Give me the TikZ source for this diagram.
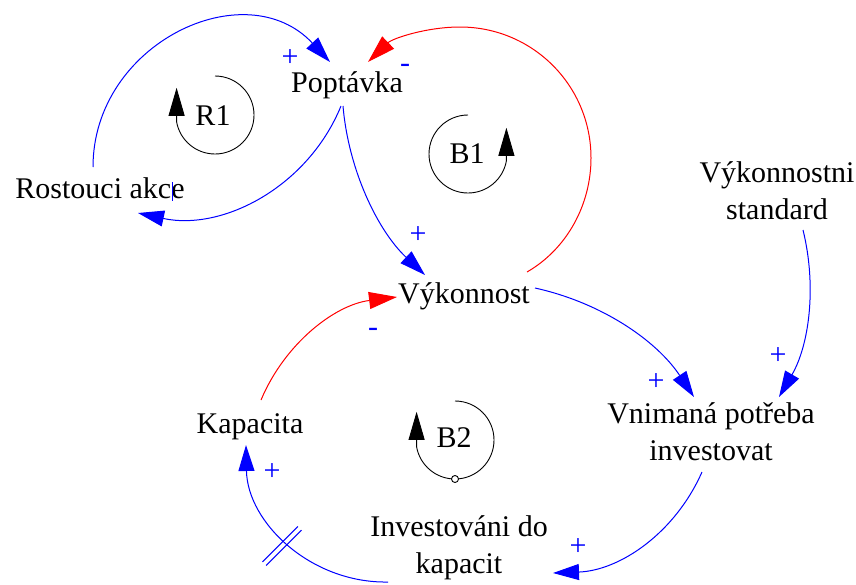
\documentclass[tikz,border=0pt]{standalone}
\usepackage{fontspec}
\setmainfont{Liberation Serif}
\usetikzlibrary{arrows.meta}
\newcommand\twolines[2]{\begin{tabular}[t]{@{}c@{}}#1\\#2\end{tabular}}
\begin{document}
\begin{tikzpicture}[x=1pt,y=-1pt,
  lbl/.style={font=\fontsize{30}{37}\selectfont, inner sep=0pt, anchor=base},
  link/.style={blue, line width=1pt, -{Triangle[length=26pt,width=16pt]}},
  neglink/.style={red, line width=1pt, -{Triangle[length=28pt,width=17pt]}},
  pol/.style={blue, font=\fontsize{30}{37}\selectfont, inner sep=0pt},
  loopline/.style={black, line width=0.9pt},
  looparrow/.style={black, line width=0.9pt, -{Triangle[length=28pt,width=16pt]}},
  delaymark/.style={blue, line width=1pt},
]
\useasboundingbox (0,0) rectangle (856,584);

% variables
\node[lbl] (pop)  at (347,92)  {Poptávka};
\node[lbl] (rost) at (100,198) {Rostouci akce};
\node[lbl] (vyk)  at (464,303) {Výkonnost};
\node[lbl] (std)  at (777,182) {\twolines{Výkonnostni}{standard}};
\node[lbl] (vnim) at (711,423) {\twolines{Vnimaná potřeba}{investovat}};
\node[lbl] (inv)  at (459,536) {\twolines{Investováni do}{kapacit}};
\node[lbl] (kap)  at (250,433) {Kapacita};

% waypoints of the large red link
\coordinate (w1) at (591,158);
\coordinate (w2) at (460,27);

% links
\draw[link] ([shift={(-7,-31)}]rost.base) to[out=90, in=133, looseness=1.22] ([shift={(-17,-30)}]pop.base);
\draw[link] ([shift={(-6,14)}]pop.base) to[bend left=40, looseness=0.97] ([shift={(38,15)}]rost.base);
\draw[link] ([shift={(-4,14)}]pop.base) to[bend right=21, looseness=0.88] ([shift={(-39,-28)}]vyk.base);
\draw[neglink] ([shift={(63,-31)}]vyk.base) to[out=30, in=-90, looseness=0.91] (w1) to[out=90, in=0, looseness=1.0] (w2) to[out=180, in=44, looseness=0.88] ([shift={(21,-30)}]pop.base);
\draw[link] ([shift={(71,-15)}]vyk.base) to[bend left=22, looseness=0.9] ([shift={(-17,-26)}]vnim.base);
\draw[link] ([shift={(26,48)}]std.base) to[bend left=22, looseness=0.9] ([shift={(68,-26)}]vnim.base);
\draw[link] ([shift={(-9,49)}]vnim.base) to[bend left=32, looseness=0.95] ([shift={(94,37)}]inv.base);
\draw[link] ([shift={(-71,46)}]inv.base) to[bend left=45, looseness=1.0] ([shift={(-4,12)}]kap.base);
\draw[neglink] ([shift={(11,-33)}]kap.base) to[bend left=30, looseness=0.93] ([shift={(-67,-6)}]vyk.base);

% delay mark
\draw[delaymark] (262.5,561.9) -- (297.9,526.5) (266.1,565.5) -- (301.5,530.1);
% tick on Rostouci akce
\draw[delaymark] (172,182) -- (172,201);

% polarities
\node[pol] (p1) at (290,58)  {+};
\node[pol] (p3) at (418,235) {+};
\node[pol] (p5) at (656,382) {+};
\node[pol] (p6) at (778,356) {+};
\node[pol] (p7) at (578,547) {+};
\node[pol] (p8) at (272,472) {+};
\node[pol] (m4) at (405,68)  {-};
\node[pol] (m9) at (373,332) {-};

% loop symbols
\coordinate (R1c) at (215,115);
\coordinate (B1c) at (468,154);
\coordinate (B2c) at (455,440);
\draw[looparrow] ([shift={(0,-39)}]R1c) arc[start angle=90, end angle=-170, radius=39pt] -- ++(0,-34);
\draw[looparrow] ([shift={(0,-39)}]B1c) arc[start angle=90, end angle=350, radius=39pt] -- ++(0,-33);
\draw[looparrow] ([shift={(0,-39)}]B2c) arc[start angle=90, end angle=-170, radius=39pt] -- ++(0,-35);
\draw[loopline, fill=white] ([shift={(0,39)}]B2c) circle[radius=3.5pt];
\node[lbl] (r1) at (213,125) {R1};
\node[lbl] (b1) at (467,163) {B1};
\node[lbl] (b2) at (454,447) {B2};
\end{tikzpicture}
\end{document}
